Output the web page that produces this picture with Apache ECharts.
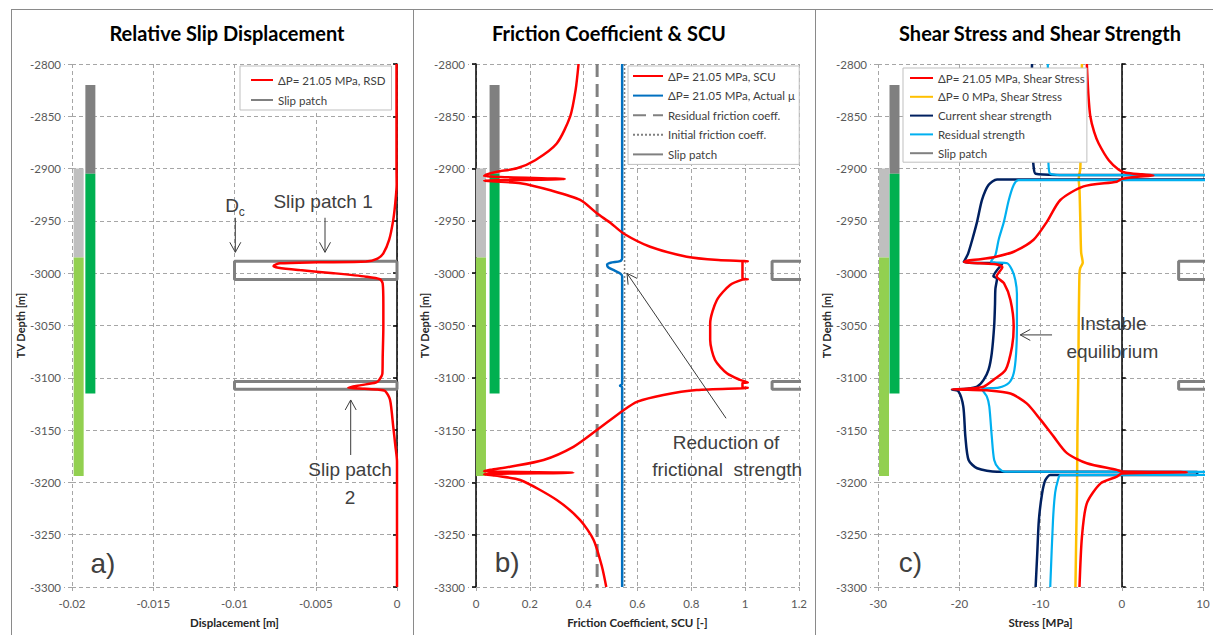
<!DOCTYPE html>
<html>
<head>
<meta charset="utf-8">
<script src="https://cdn.jsdelivr.net/npm/echarts@6/dist/echarts.min.js"></script>
<style>
html, body { margin: 0; padding: 0; background: #fff; }
#chart { width: 1213px; height: 635px; }
</style>
</head>
<body>
<div id="chart"></div>
<script>
// ---- axes -------------------------------------------------------------
const depthRange = [-3300, -2800];
const depthStep = 50;
const dispRange = [-0.02, 0];
const dispStep = 0.005;
const fricRange = [0, 1.2];
const fricStep = 0.2;
const stressRange = [-30, 10];
const stressStep = 10;

// ---- formation columns (depth top, depth bottom) ------------------------
const lightGreyZone = [-2900, -2985];
const lightGreenZone = [-2985, -3194];
const darkGreyZone = [-2820, -2905];
const greenZone = [-2905, -3115];
// column positions on each panel's horizontal axis
const dispColumnX = [-0.01959, -0.01887];
const fricColumnX = [0.0185, 0.069];
const stressColumnX = [-29.26, -27.97];

// ---- slip patches (depth top, depth bottom) and horizontal extent ------
const slipPatch1 = [-2988.5, -3006];
const slipPatch2 = [-3103.5, -3111];
const dispPatchX = [-0.01, 0];
const fricPatchX = [1.1, 1.3];
const stressPatchX = [7, 13];

// ---- a) relative slip displacement [m] vs depth ------------------------
const rsd = [
  [-0.00003, -2800], [-0.00003, -2900], [-0.00002, -2915], [-0.0001, -2932],
  [-0.00023, -2949], [-0.00048, -2968], [-0.00084, -2981], [-0.0012, -2986],
  [-0.0019, -2988.8], [-0.0049, -2989.6], [-0.0072, -2990.6], [-0.0076, -2993],
  [-0.0073, -2994.7], [-0.006, -2997], [-0.0039, -3000], [-0.0019, -3003.3],
  [-0.00105, -3005.8], [-0.00088, -3010], [-0.00084, -3030], [-0.00084, -3051],
  [-0.00088, -3080], [-0.0009, -3096], [-0.0011, -3102], [-0.0013, -3104.5],
  [-0.0022, -3107], [-0.0030, -3109.4], [-0.0020, -3110.4], [-0.0012, -3111.2],
  [-0.00074, -3112.5], [-0.00043, -3121], [-0.00023, -3147], [-0.0001, -3165],
  [0, -3180], [0, -3300]
];

// ---- b) slip criticality / friction coefficient vs depth ---------------
const scu = [
  [0.381, -2800], [0.37, -2825], [0.35, -2850], [0.30, -2876], [0.22, -2892],
  [0.152, -2899.7], [0.078, -2903], [0.04, -2905.5], [0.03, -2907],
  [0.33, -2910], [0.03, -2911.5], [0.06, -2912.2], [0.165, -2914], [0.28, -2921],
  [0.387, -2930], [0.449, -2942.7], [0.50, -2952], [0.548, -2962], [0.647, -2974.7],
  [0.783, -2984.2], [0.90, -2987.4], [0.993, -2988.3], [1.01, -2988.5],
  [0.99, -2988.9], [0.99, -3005.3], [1.01, -3005.8], [0.99, -3006.2],
  [0.944, -3011.3], [0.895, -3025.6], [0.870, -3047.9], [0.870, -3063.9],
  [0.888, -3083], [0.932, -3095.7], [0.981, -3102], [1.01, -3104.5],
  [0.99, -3104.9], [0.99, -3109.2], [1.01, -3109.6], [0.993, -3110],
  [0.82, -3111.7], [0.696, -3116.4], [0.60, -3122.8], [0.548, -3131],
  [0.449, -3150], [0.362, -3166], [0.251, -3178.6], [0.127, -3185],
  [0.053, -3188], [0.03, -3189.3], [0.362, -3190.7], [0.03, -3192.2],
  [0.07, -3193.5], [0.164, -3197.7], [0.30, -3216.8], [0.387, -3236],
  [0.437, -3255], [0.468, -3280.6], [0.484, -3300]
];
const actualMu = [
  [0.543, -2800], [0.543, -2986], [0.535, -2988.5], [0.50, -2990], [0.487, -2992],
  [0.492, -2994.5], [0.515, -2997.5], [0.537, -3000.5], [0.543, -3003],
  [0.543, -3106], [0.535, -3107.5], [0.543, -3109], [0.543, -3300]
];
const residualMu = [[0.45, -2800], [0.45, -3300]];
const initialMu = [[0.552, -2800], [0.552, -3300]];

// ---- c) shear stress and shear strength [MPa] vs depth -----------------
const shearStress = [
  [-4.3, -2800], [-4.1, -2830], [-3.87, -2850], [-3.4, -2865], [-2.84, -2876],
  [-1.6, -2892], [-0.37, -2901], [0.5, -2904], [2.5, -2905.5], [3.9, -2906.5],
  [1.5, -2908], [0, -2910], [-0.6, -2912.5], [-4.7, -2917], [-7.56, -2930],
  [-9.2, -2950.7], [-10.85, -2968], [-13.3, -2979.5], [-15.35, -2984],
  [-17.4, -2986.7], [-19.05, -2988], [-19.4, -2989.5], [-17.5, -2990.5],
  [-15.5, -2991.5], [-14.7, -2994.3], [-15.4, -3003], [-14.5, -3009.6],
  [-13.7, -3025.6], [-13.3, -3051], [-13.5, -3070], [-14.3, -3092.5],
  [-15.8, -3102], [-17, -3108.5], [-19.05, -3110.5], [-20.9, -3111],
  [-19, -3111.5], [-16.6, -3112], [-13.7, -3115], [-11.7, -3124.5],
  [-10.0, -3140], [-8.4, -3156], [-6.74, -3172], [-4.3, -3181.7],
  [-0.6, -3188], [0, -3189.5], [8, -3190.3], [0, -3191.5], [-0.6, -3194.5],
  [-2.6, -3200.9], [-4.3, -3220], [-4.9, -3252], [-5.2, -3300]
];
const shearStressInitial = [
  [-4.9, -2800], [-5.0, -2850], [-5.1, -2900], [-5.3, -2910], [-5.2, -2920],
  [-5.1, -2950], [-5.0, -2980], [-4.8, -2990], [-5.1, -2995], [-5.2, -3000],
  [-5.3, -3050], [-5.35, -3100], [-5.45, -3150], [-5.5, -3200], [-5.6, -3250],
  [-5.7, -3300]
];
const currentStrength = [
  [-11.05, -2800], [-11.0, -2880], [-10.85, -2898], [-10.6, -2905], [-8, -2906],
  [13, -2906], [13, -2910.5], [-15.35, -2910.5], [-16.4, -2915.7], [-17.2, -2930],
  [-17.8, -2950.7], [-18.4, -2968], [-18.9, -2981], [-19.3, -2987.4],
  [-19.45, -2989.2], [-18, -2990.2], [-14.7, -2990.8], [-15.8, -3003],
  [-15.35, -3005], [-15.55, -3015], [-15.6, -3030], [-15.7, -3050],
  [-16.0, -3076.6], [-16.4, -3092.5], [-17.0, -3102], [-17.8, -3108.5],
  [-19, -3110.5], [-20.9, -3111.2], [-20.1, -3113], [-19.5, -3127.5],
  [-19.25, -3156], [-18.85, -3178.6], [-17.8, -3186.5], [-15.35, -3189.8],
  [9.3, -3190], [9.2, -3193], [-8.8, -3193], [-9.4, -3197.7], [-9.8, -3210.4],
  [-10.2, -3236], [-10.4, -3268], [-10.6, -3300]
];
const residualStrength = [
  [-9.1, -2800], [-9.05, -2880], [-9.0, -2898], [-8.8, -2905], [-7, -2906.3],
  [13, -2906.3], [13, -2911], [-12.7, -2911], [-13.3, -2915.7], [-13.9, -2930],
  [-14.5, -2950.7], [-15.15, -2968], [-15.55, -2982.6], [-16.1, -2989],
  [-15.5, -2989.8], [-14.1, -2990.5], [-13.5, -2997], [-13.1, -3006.5],
  [-12.9, -3020], [-12.9, -3050], [-13.0, -3076.6], [-13.3, -3095.7],
  [-13.9, -3105], [-15.15, -3109.4], [-17.2, -3111], [-16.6, -3118],
  [-16.3, -3127.5], [-16.0, -3156], [-15.7, -3178.6], [-15.15, -3186.5],
  [-14.35, -3189.8], [13, -3190], [13, -3192.7], [-7.56, -3193], [-7.85, -3197.7],
  [-8.2, -3210], [-8.46, -3236], [-8.8, -3300]
];

// ---- styling -------------------------------------------------------------
const RED = '#ff0000', BLUE = '#0070c0', NAVY = '#002060', SKY = '#00b0f0';
const AMBER = '#ffc000', GREY = '#808080';
const UI_FONT = 'Lato, "Noto Sans", sans-serif';
const NOTE_FONT = '"Liberation Sans", Arial, sans-serif';
const GRID_LINE = { color: '#a6a6a6', type: [4, 3], width: 1 };

const grids = [
  { left: 72, top: 64, width: 325, height: 523 },
  { left: 476, top: 64, width: 323, height: 523 },
  { left: 878, top: 64, width: 325, height: 523 }
];

function valueAxis(gridIndex, range, step, name) {
  return {
    type: 'value', gridIndex, min: range[0], max: range[1], interval: step,
    position: 'bottom',
    name, nameLocation: 'middle', nameGap: 29,
    nameTextStyle: { fontFamily: UI_FONT, fontWeight: 'bold', fontSize: 11.5, color: '#262626' },
    axisLine: { show: false, onZero: false },
    axisTick: { show: true, length: 4, lineStyle: GRID_LINE },
    axisLabel: { fontFamily: UI_FONT, fontSize: 11.5, color: '#595959', margin: 10 },
    splitLine: { show: true, showMinLine: true, showMaxLine: true, lineStyle: GRID_LINE }
  };
}
function depthAxis(gridIndex) {
  return {
    type: 'value', gridIndex, min: depthRange[0], max: depthRange[1], interval: depthStep,
    position: 'left',
    name: 'TV Depth [m]', nameLocation: 'middle', nameGap: 45,
    nameTextStyle: { fontFamily: UI_FONT, fontWeight: 'bold', fontSize: 11, color: '#262626' },
    axisLine: { show: false, onZero: false },
    axisTick: { show: true, length: 8, lineStyle: GRID_LINE },
    axisLabel: { fontFamily: UI_FONT, fontSize: 11.5, color: '#595959', margin: 11,
                 formatter: v => String(v) },
    splitLine: { show: true, showMinLine: true, showMaxLine: true, lineStyle: GRID_LINE }
  };
}
// vertical black axis drawn where the horizontal value is zero
function zeroAxis(gridIndex, ticksInside) {
  return {
    type: 'value', gridIndex, min: depthRange[0], max: depthRange[1], interval: depthStep,
    position: 'left',
    axisLine: { show: true, onZero: true, lineStyle: { color: '#000', width: 1.5 } },
    axisTick: { show: true, inside: ticksInside, length: 4, lineStyle: { color: '#000', width: 1.5 } },
    axisLabel: { show: false },
    splitLine: { show: false }
  };
}

function curve(name, g, data, color, width, extra) {
  return Object.assign({
    type: 'line', name, xAxisIndex: g, yAxisIndex: 2 * g, data,
    symbol: 'none', smooth: 0.25, silent: true, z: 5,
    lineStyle: { color, width },
    itemStyle: { color },
    emphasis: { disabled: true }
  }, extra || {});
}
function column(g, x, zone, color) {
  return {
    type: 'line', name: 'column', xAxisIndex: g, yAxisIndex: 2 * g,
    data: [[x, zone[0]], [x, zone[1]]],
    symbol: 'none', silent: true, z: 3,
    lineStyle: { color, width: 10, cap: 'butt' },
    emphasis: { disabled: true }
  };
}
function patch(g, xs, depths, closed) {
  const d = [[xs[1], depths[0]], [xs[0], depths[0]], [xs[0], depths[1]], [xs[1], depths[1]]];
  if (closed) d.push([xs[1], depths[0]]);
  return curve('Slip patch', g, d, GREY, 3, { smooth: false, z: 4 });
}
function columns(g, xs) {
  return [
    column(g, xs[0], lightGreyZone, '#bfbfbf'),
    column(g, xs[0], lightGreenZone, '#92d050'),
    column(g, xs[1], darkGreyZone, '#808080'),
    column(g, xs[1], greenZone, '#00b050')
  ];
}

const legendBase = {
  orient: 'vertical', selectedMode: false, itemHeight: 14, icon: 'inherit', z: 20,
  itemStyle: { opacity: 0 },
  borderColor: '#bfbfbf', borderWidth: 1, backgroundColor: '#fff', borderRadius: 0,
  textStyle: { fontFamily: UI_FONT, fontSize: 11.5, lineHeight: 14, color: '#404040' }
};

const option = {
  animation: false,
  backgroundColor: '#fff',
  grid: grids,
  xAxis: [
    valueAxis(0, dispRange, dispStep, 'Displacement [m]'),
    valueAxis(1, fricRange, fricStep, 'Friction Coefficient, SCU [-]'),
    valueAxis(2, stressRange, stressStep, 'Stress [MPa]')
  ],
  yAxis: [
    depthAxis(0), zeroAxis(0, false),
    depthAxis(1), zeroAxis(1, false),
    depthAxis(2), zeroAxis(2, true)
  ],
  legend: [
    Object.assign({}, legendBase, {
      left: 240, top: 66, itemGap: 6, itemWidth: 22, padding: [7, 6, 3, 10],
      data: ['ΔP= 21.05 MPa, RSD', 'Slip patch']
    }),
    Object.assign({}, legendBase, {
      left: 628, top: 66, itemGap: 5.6, itemWidth: 30, padding: [3, 4, 3, 4],
      data: ['ΔP= 21.05 MPa, SCU', 'ΔP= 21.05 MPa, Actual μ', 'Residual friction coeff.',
             'Initial friction coeff.', 'Slip patch']
    }),
    Object.assign({}, legendBase, {
      left: 903, top: 68, itemGap: 4.8, itemWidth: 23, padding: [3, 2, 2, 6],
      data: ['ΔP= 21.05 MPa, Shear Stress', 'ΔP= 0 MPa, Shear Stress',
             'Current shear strength', 'Residual strength', 'Slip patch']
    })
  ],
  series: [
    // a) relative slip displacement
    ...columns(0, dispColumnX),
    patch(0, dispPatchX, slipPatch1, true),
    patch(0, dispPatchX, slipPatch2, true),
    curve('ΔP= 21.05 MPa, RSD', 0, rsd, RED, 2.5),
    // b) friction coefficient and SCU
    ...columns(1, fricColumnX),
    patch(1, fricPatchX, slipPatch1, false),
    patch(1, fricPatchX, slipPatch2, false),
    curve('Residual friction coeff.', 1, residualMu, GREY, 3, { smooth: false, lineStyle: { color: GREY, width: 3, type: [13, 7] } }),
    curve('Initial friction coeff.', 1, initialMu, GREY, 1.5, { smooth: false, lineStyle: { color: GREY, width: 1.5, type: [2, 2] } }),
    curve('ΔP= 21.05 MPa, Actual μ', 1, actualMu, BLUE, 2.5),
    curve('ΔP= 21.05 MPa, SCU', 1, scu, RED, 2.5),
    // c) shear stress and shear strength
    ...columns(2, stressColumnX),
    patch(2, stressPatchX, slipPatch1, false),
    patch(2, stressPatchX, slipPatch2, false),
    curve('ΔP= 0 MPa, Shear Stress', 2, shearStressInitial, AMBER, 2.5),
    curve('Current shear strength', 2, currentStrength, NAVY, 2.5),
    curve('Residual strength', 2, residualStrength, SKY, 2.2),
    curve('ΔP= 21.05 MPa, Shear Stress', 2, shearStress, RED, 2.5)
  ]
};

const chart = echarts.init(document.getElementById('chart'), null, { renderer: 'svg' });
chart.setOption(option);

// ---- frame, panel titles and annotations -------------------------------
const toPx = (g, p) => chart.convertToPixel({ gridIndex: g }, p);
const elements = [];

function text(str, x, y, font, fill) {
  elements.push({
    type: 'text', silent: true, z: 100,
    style: { text: str, x, y, font, fill: fill || '#404040',
             textAlign: 'center', textVerticalAlign: 'middle', align: 'center', verticalAlign: 'middle' }
  });
}
function note(g, str, at, size) {
  const p = toPx(g, at);
  text(str, p[0], p[1], (size || 19) + 'px ' + NOTE_FONT, '#404040');
}
function arrow(g, from, to) {
  const a = toPx(g, from), b = toPx(g, to);
  const dx = b[0] - a[0], dy = b[1] - a[1], len = Math.hypot(dx, dy);
  const ux = dx / len, uy = dy / len, head = 10, half = 5.5;
  const l = [b[0] - ux * head - uy * half, b[1] - uy * head + ux * half];
  const r = [b[0] - ux * head + uy * half, b[1] - uy * head - ux * half];
  const st = { stroke: '#3a3a3a', lineWidth: 1, fill: null };
  elements.push({ type: 'polyline', silent: true, z: 100, shape: { points: [a, b] }, style: st });
  elements.push({ type: 'polyline', silent: true, z: 100, shape: { points: [l, b, r] }, style: st });
}

const frame = { stroke: '#8a8a8a', lineWidth: 1 };
elements.push({ type: 'line', silent: true, shape: { x1: 11, y1: 9.5, x2: 1213, y2: 9.5 }, style: frame });
[11.5, 413.5, 815.5].forEach(x => elements.push({
  type: 'line', silent: true, shape: { x1: x, y1: 9, x2: x, y2: 635 }, style: frame
}));

const titleFont = 'bold 20px ' + UI_FONT;
text('Relative Slip Displacement', 227, 33, titleFont, '#000');
text('Friction Coefficient & SCU', 609, 33, titleFont, '#000');
text('Shear Stress and Shear Strength', 1040, 33, titleFont, '#000');

// a)
note(0, 'D', [-0.01015, -2934.8]);
note(0, 'c', [-0.00955, -2941.5], 12);
arrow(0, [-0.00995, -2947], [-0.00995, -2980]);
note(0, 'Slip patch 1', [-0.00455, -2931]);
arrow(0, [-0.00443, -2947], [-0.00443, -2980]);
note(0, 'Slip patch', [-0.00289, -3187.2]);
note(0, '2', [-0.00289, -3214]);
arrow(0, [-0.00285, -3173.8], [-0.00285, -3121.2]);
note(0, 'a)', [-0.0181, -3278], 28);
// b)
note(1, 'Reduction of', [0.929, -3162.3]);
note(1, 'frictional  strength', [0.933, -3188]);
arrow(1, [0.929, -3138.7], [0.561, -3000.1]);
note(1, 'b)', [0.116, -3277], 28);
// c)
note(2, 'Instable', [-1.04, -3047.9]);
note(2, 'equilibrium', [-1.16, -3075]);
arrow(2, [-8.58, -3059], [-12.49, -3059]);
note(2, 'c)', [-26.0, -3277], 28);

chart.setOption({ graphic: { elements } });
</script>
</body>
</html>
